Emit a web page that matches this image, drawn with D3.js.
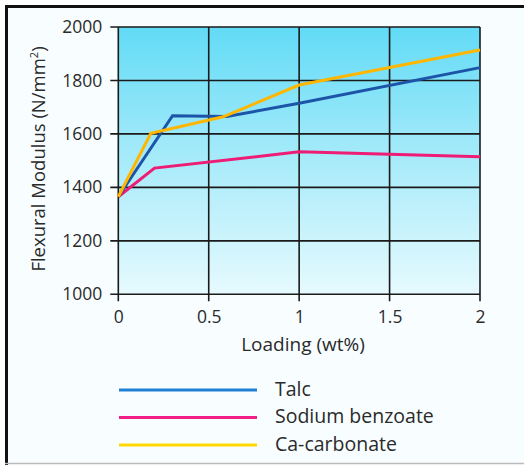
<!DOCTYPE html>
<html><head><meta charset="utf-8">
<script src="https://cdn.jsdelivr.net/npm/d3@7"></script>
<style>
html,body{margin:0;padding:0;background:#fff;}
svg{display:block;font-family:"Open Sans","Noto Sans",sans-serif;}
</style></head>
<body><svg id="c" width="524" height="465"></svg>
<script>
const loadingTalc = [0, 0.3, 0.6, 1, 2];
const talc = [1365, 1668, 1665, 1715, 1848];
const loadingSodium = [0, 0.2, 1, 2];
const sodium = [1365, 1472, 1533, 1515];
const loadingCa = [0, 0.18, 0.58, 1, 2];
const caCarbonate = [1365, 1602, 1664, 1783, 1914];
const xTicks = [0, 0.5, 1, 1.5, 2];
const xTickLabels = ["0", "0.5", "1", "1.5", "2"];
const yTicks = [1000, 1200, 1400, 1600, 1800, 2000];
const seriesNames = ["Talc", "Sodium benzoate", "Ca-carbonate"];

const svg = d3.select("#c");
const m = {l:118.3, r:480, t:27, b:294.3};
const x = d3.scaleLinear().domain([0,2]).range([m.l, m.r]);
const y = d3.scaleLinear().domain([1000,2000]).range([m.b, m.t]);

// frame
svg.append("rect").attr("x",0).attr("y",0).attr("width",524).attr("height",465).attr("fill","#fff");
svg.append("rect").attr("x",8).attr("y",8).attr("width",516).attr("height",455).attr("fill","#f8feff");
svg.append("line").attr("x1",5).attr("x2",524).attr("y1",6.5).attr("y2",6.5).attr("stroke","#111").attr("stroke-width",3);
svg.append("line").attr("x1",6.5).attr("x2",6.5).attr("y1",5).attr("y2",465).attr("stroke","#111").attr("stroke-width",3);
svg.append("line").attr("x1",5).attr("x2",524).attr("y1",463.5).attr("y2",463.5).attr("stroke","#bbb").attr("stroke-width",1.5);

const defs = svg.append("defs");
const g = defs.append("linearGradient").attr("id","bg").attr("x1",0).attr("y1",0).attr("x2",0).attr("y2",1);
g.append("stop").attr("offset","0%").attr("stop-color","#62dbf6");
g.append("stop").attr("offset","50%").attr("stop-color","#a8ebfa");
g.append("stop").attr("offset","100%").attr("stop-color","#e6fafe");
svg.append("rect").attr("x",m.l).attr("y",m.t).attr("width",m.r-m.l).attr("height",m.b-m.t).attr("fill","url(#bg)");

// grid
const gridC = "#1a1a1a";
svg.append("g").selectAll("line").data(yTicks).join("line")
  .attr("x1", m.l-8).attr("x2", m.r).attr("y1", d=>y(d)).attr("y2", d=>y(d))
  .attr("stroke", gridC).attr("stroke-width", 1.6);
svg.append("g").selectAll("line").data(xTicks).join("line")
  .attr("x1", d=>x(d)).attr("x2", d=>x(d)).attr("y1", m.t).attr("y2", m.b+7)
  .attr("stroke", gridC).attr("stroke-width", 1.6);

const tickFont = 17.5;
const yAxis = svg.append("g").attr("transform",`translate(${m.l-8},0)`)
  .call(d3.axisLeft(y).tickValues(yTicks).tickFormat(d3.format("d")).tickSize(0).tickPadding(8));
yAxis.select(".domain").remove();
yAxis.selectAll("text").attr("font-size",tickFont).attr("fill","#2a2a2a").attr("font-family","'Open Sans',sans-serif");

const xAxis = svg.append("g").attr("transform",`translate(0,${m.b+7})`)
  .call(d3.axisBottom(x).tickValues(xTicks).tickFormat((d,i)=>xTickLabels[i]).tickSize(0).tickPadding(9));
xAxis.select(".domain").remove();
xAxis.selectAll("text").attr("font-size",tickFont).attr("fill","#2a2a2a").attr("font-family","'Open Sans',sans-serif");

svg.append("text").attr("x",303).attr("y",351).attr("text-anchor","middle")
  .attr("font-size",19).attr("fill","#2a2a2a").text("Loading (wt%)");
svg.append("text").attr("transform","translate(45,159) rotate(-90)").attr("text-anchor","middle")
  .attr("font-size",18.5).attr("fill","#2a2a2a")
  .html('Flexural Modulus (N/mm<tspan dy="-7" font-size="11">2</tspan><tspan dy="7">)</tspan>');

// lines
const line = d3.line().x(d=>x(d[0])).y(d=>y(d[1]));
const plotSeries = [
  {xs: loadingSodium, ys: sodium, c:"#ee1c74"},
  {xs: loadingTalc, ys: talc, c:"#1c55a8"},
  {xs: loadingCa, ys: caCarbonate, c:"#ffb600"}
];
plotSeries.forEach(s=>{
  svg.append("path").datum(s.xs.map((v,i)=>[v,s.ys[i]])).attr("d",line)
    .attr("fill","none").attr("stroke",s.c).attr("stroke-width",3).attr("stroke-linejoin","miter");
});

// legend
const legendColors = ["#1f7fd2", "#f21d86", "#ffd800"];
const ly = [390, 417.5, 445];
const lg = svg.append("g");
seriesNames.forEach((n,i)=>{
  lg.append("line").attr("x1",119).attr("x2",257).attr("y1",ly[i]).attr("y2",ly[i])
    .attr("stroke",legendColors[i]).attr("stroke-width",3);
  lg.append("text").attr("x",275).attr("y",ly[i]).attr("dy","0.3em")
    .attr("font-size",19.5).attr("fill","#2a2a2a").text(n);
});
</script></body></html>
